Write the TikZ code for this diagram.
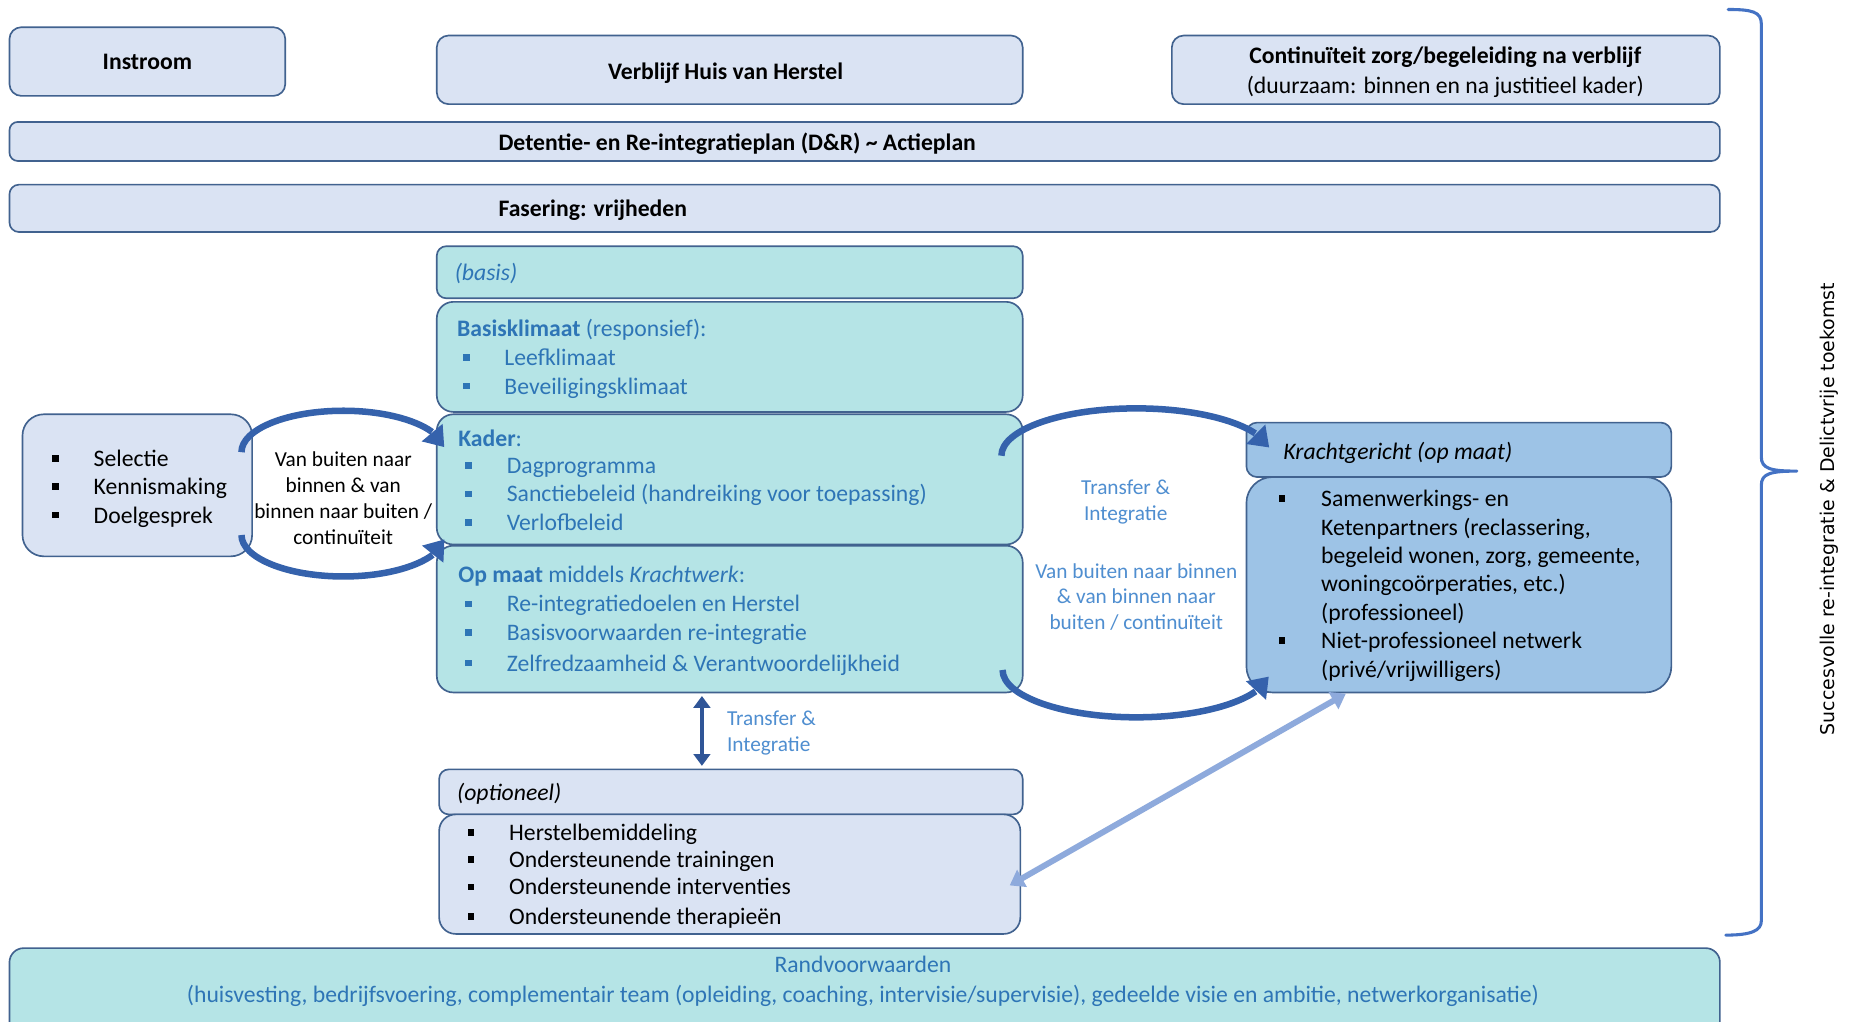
\documentclass[tikz,border=0pt]{standalone}
\usepackage{fontspec}
\setmainfont{Carlito}
\newfontfamily\vfont{DejaVu Sans}
\usetikzlibrary{arrows.meta,bending,calc}
\definecolor{lavc}{HTML}{DAE3F3}
\definecolor{tealc}{HTML}{B5E4E6}
\definecolor{bluec}{HTML}{9DC3E6}
\definecolor{bordc}{HTML}{41628F}
\definecolor{tblue}{HTML}{2E75B6}
\definecolor{lblue}{HTML}{4F8ED0}
\definecolor{arrc}{HTML}{3562AC}
\definecolor{darrc}{HTML}{2F5597}
\definecolor{larrc}{HTML}{8EAADC}
\definecolor{bracec}{HTML}{4472C4}
\newcommand\mybullet[1][35pt]{\makebox[#1][l]{\rule[0.2em]{0.28em}{0.28em}}}
\begin{document}
\begin{tikzpicture}[x=1pt,y=-1pt,
  box/.style={draw=bordc, line width=1.4pt, rounded corners=10pt, inner sep=0pt, outer sep=0pt},
  lav/.style={box, fill=lavc},
  tealbox/.style={box, fill=tealc},
  bluebox/.style={box, fill=bluec},
  txt/.style={font=\fontsize{20}{24}\selectfont, inner sep=0pt, anchor=base west, yshift=-1pt},
  ctxt/.style={font=\fontsize{20}{24}\selectfont, inner sep=0pt, anchor=base, yshift=-1pt},
  stxt/.style={font=\fontsize{18}{22}\selectfont, inner sep=0pt, anchor=base, yshift=-1pt},
  sltxt/.style={font=\fontsize{18}{22}\selectfont, inner sep=0pt, anchor=base west, yshift=-1pt},
  arcarrow/.style={draw=arrc, line width=5.5pt, -{Triangle[length=16pt,width=22pt,flex]}},
  dblarrow/.style={draw=darrc, line width=4pt, {Triangle[length=10pt,width=14pt]}-{Triangle[length=10pt,width=14pt]}},
  lightarrow/.style={draw=larrc, line width=5pt, {Triangle[length=12pt,width=16pt]}-{Triangle[length=12pt,width=16pt]}},
]
\useasboundingbox[fill=white] (0,0) rectangle (1568,863);

% top row
\node[lav, minimum width=233pt, minimum height=58pt] (instroom) at (124.5,52) {};
\node[ctxt] (instroomT) at (124.5,58) {\textbf{Instroom}};
\node[lav, minimum width=495pt, minimum height=58pt] (verblijf) at (616.5,59) {};
\node[ctxt] (verblijfT) at (613,66) {\textbf{Verblijf Huis van Herstel}};
\node[lav, minimum width=463pt, minimum height=58pt] (cont) at (1221.5,59) {};
\node[ctxt] (contT1) at (1221,53) {\textbf{Continuïteit zorg/begeleiding na verblijf}};
\node[ctxt] (contT2) at (1221,78) {(duurzaam: binnen en na justitieel kader)};

% bars
\node[lav, rounded corners=7pt, minimum width=1445pt, minimum height=33pt] (dr) at (730.5,119.5) {};
\node[txt] (drT) at (421,126) {\textbf{Detentie- en Re-integratieplan (D\&R) \textasciitilde\ Actieplan}};
\node[lav, rounded corners=8pt, minimum width=1445pt, minimum height=40pt] (fas) at (730.5,176) {};
\node[txt] (fasT) at (421,182) {\textbf{Fasering: vrijheden}};

% centre column (teal)
\node[tealbox, rounded corners=8pt, minimum width=495pt, minimum height=44pt] (basisH) at (616.5,230) {};
\node[txt, text=tblue] (basisHT) at (384,236) {\textit{(basis)}};
\node[tealbox, rounded corners=14pt, minimum width=495pt, minimum height=93pt] (basisB) at (616.5,301.5) {};
\node[txt, text=tblue] (basisB0) at (386,283) {\textbf{Basisklimaat} (responsief):};
\node[txt, text=tblue] (basisB1) at (391,308) {\mybullet Leefklimaat};
\node[txt, text=tblue] (basisB2) at (391,332) {\mybullet Beveiligingsklimaat};
\node[tealbox, rounded corners=14pt, minimum width=495pt, minimum height=110pt] (kader) at (616.5,405) {};
\node[txt, text=tblue] (kader0) at (387,376) {\textbf{Kader}:};
\node[txt, text=tblue] (kader1) at (393,399) {\mybullet Dagprogramma};
\node[txt, text=tblue] (kader2) at (393,423) {\mybullet Sanctiebeleid (handreiking voor toepassing)};
\node[txt, text=tblue] (kader3) at (393,447) {\mybullet Verlofbeleid};
\node[tealbox, rounded corners=14pt, minimum width=495pt, minimum height=124pt] (opmaat) at (616.5,523) {};
\node[txt, text=tblue] (opmaat0) at (387,491) {\textbf{Op maat} middels \textit{Krachtwerk}:};
\node[txt, text=tblue] (opmaat1) at (393,516) {\mybullet Re-integratiedoelen en Herstel};
\node[txt, text=tblue] (opmaat2) at (393,540) {\mybullet Basisvoorwaarden re-integratie};
\node[txt, text=tblue] (opmaat3) at (393,566) {\mybullet Zelfredzaamheid \& Verantwoordelijkheid};

% left box
\node[lav, rounded corners=18pt, minimum width=194pt, minimum height=120pt] (left) at (116,410) {};
\node[txt] (left1) at (44,393) {\mybullet Selectie};
\node[txt] (left2) at (44,417) {\mybullet Kennismaking};
\node[txt] (left3) at (44,441) {\mybullet Doelgesprek};

% left circle text
\node[stxt] (lc1) at (290,393) {Van buiten naar};
\node[stxt] (lc2) at (290,415) {binnen \& van};
\node[stxt] (lc3) at (290,437) {binnen naar buiten /};
\node[stxt] (lc4) at (290,459) {continuïteit};

% right circle text
\node[stxt, text=lblue] (rc1) at (951,417) {Transfer \&};
\node[stxt, text=lblue] (rc2) at (951,439) {Integratie};
\node[stxt, text=lblue] (rc3) at (960,488) {Van buiten naar binnen};
\node[stxt, text=lblue] (rc4) at (960,509) {\& van binnen naar};
\node[stxt, text=lblue] (rc5) at (960,531) {buiten / continuïteit};

% Krachtgericht
\node[bluebox, rounded corners=9pt, minimum width=359pt, minimum height=46pt] (krH) at (1232.5,380) {};
\node[txt] (krHT) at (1084,387) {\textit{Krachtgericht (op maat)}};
\node[bluebox, rounded corners=22pt, minimum width=359pt, minimum height=182pt] (krB) at (1232.5,494) {};
\node[txt] (kr1) at (1080,427) {\mybullet[36pt]Samenwerkings- en};
\node[txt] (kr2) at (1116,451) {Ketenpartners (reclassering,};
\node[txt] (kr3) at (1116,475) {begeleid wonen, zorg, gemeente,};
\node[txt] (kr4) at (1116,499) {woningcoörperaties, etc.)};
\node[txt] (kr5) at (1116,523) {(professioneel)};
\node[txt] (kr6) at (1080,547) {\mybullet[36pt]Niet-professioneel netwerk};
\node[txt] (kr7) at (1116,571) {(privé/vrijwilligers)};

% optioneel
\node[lav, rounded corners=8pt, minimum width=493pt, minimum height=38pt] (optH) at (617.5,669) {};
\node[txt] (optHT) at (386,675) {\textit{(optioneel)}};
\node[lav, rounded corners=14pt, minimum width=491pt, minimum height=101pt] (optB) at (616.5,738.5) {};
\node[txt] (opt1) at (395,709) {\mybullet Herstelbemiddeling};
\node[txt] (opt2) at (395,732) {\mybullet Ondersteunende trainingen};
\node[txt] (opt3) at (395,755) {\mybullet Ondersteunende interventies};
\node[txt] (opt4) at (395,780) {\mybullet Ondersteunende therapieën};

% Randvoorwaarden
\node[tealbox, rounded corners=12pt, minimum width=1445pt, minimum height=79pt] (rand) at (730.5,840.5) {};
\node[ctxt, text=tblue] (rand1) at (729,821) {Randvoorwaarden};
\node[ctxt, text=tblue] (rand2) at (729,846) {(huisvesting, bedrijfsvoering, complementair team (opleiding, coaching, intervisie/supervisie), gedeelde visie en ambitie, netwerkorganisatie)};

% circular arrows
\coordinate (lt) at (290,382);
\coordinate (lb) at (290,452);
\coordinate (rt) at (960,385);
\coordinate (rb) at (960,566);
\draw[arcarrow] ([shift={(-180:86 and 35)}]lt) arc[start angle=-180, end angle=-7, x radius=86, y radius=35];
\draw[arcarrow] ([shift={(180:86 and 35)}]lb) arc[start angle=180, end angle=6, x radius=86, y radius=35];
\draw[arcarrow] ([shift={(-180:114 and 40)}]rt) arc[start angle=-180, end angle=-10, x radius=114, y radius=40];
\draw[arcarrow] ([shift={(180:113 and 40)}]rb) arc[start angle=180, end angle=8, x radius=113, y radius=40];

% vertical double arrow
\coordinate (vx) at (593,0);
\draw[dblarrow, shorten <=3pt, shorten >=3pt] (opmaat.south -| vx) -- (optH.north -| vx);
\node[sltxt, text=lblue] (tr1) at (614,612) {Transfer \&};
\node[sltxt, text=lblue] (tr2) at (614,634) {Integratie};

% light diagonal arrow
\coordinate (la1) at (853,748);
\coordinate (la2) at (1137,586);
\draw[lightarrow] (la1) -- (la2);

% brace
\draw[bracec, line width=2.6pt, line cap=round, line join=round]
  (1460,8) .. controls (1480,8) and (1488,10) .. (1488,20)
  -- (1488,386) .. controls (1488,396) and (1496,398) .. (1518,398)
  .. controls (1496,398) and (1488,400) .. (1488,410)
  -- (1488,778) .. controls (1488,786) and (1480,790) .. (1458,790);
\node[font=\vfont\fontsize{16}{18}\selectfont, rotate=90, inner sep=0pt] (succ) at (1545,430) {Succesvolle re-integratie \& Delictvrije toekomst};
\end{tikzpicture}
\end{document}
